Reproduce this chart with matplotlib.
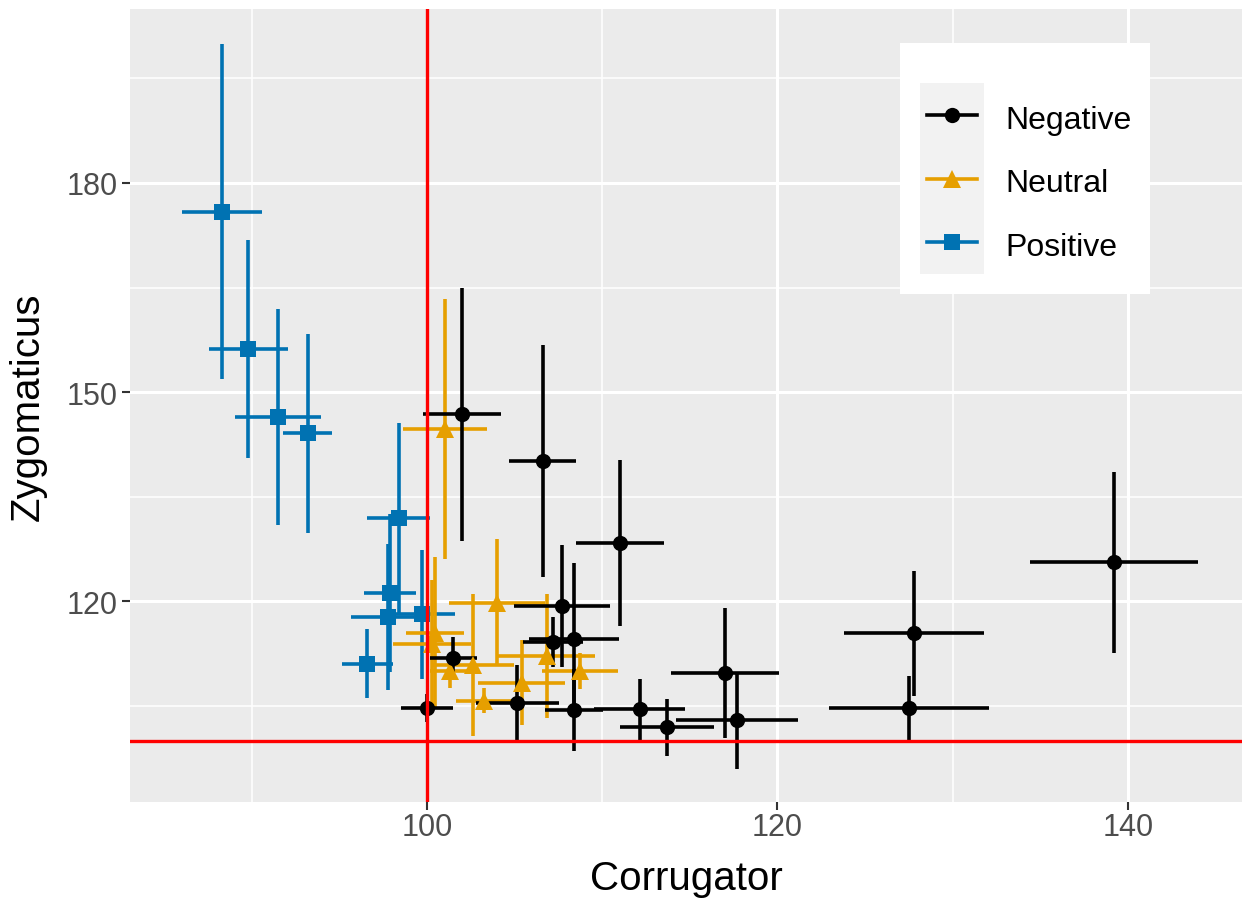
import matplotlib
matplotlib.use("Agg")
import matplotlib.pyplot as plt
from matplotlib.lines import Line2D
from matplotlib.patches import Rectangle

plt.rcParams["font.family"] = ["Liberation Sans", "DejaVu Sans"]

# values (x = Corrugator, y = Zygomaticus, +- half widths)
neg_x = [102.0, 106.6, 111.0, 139.2, 127.8, 127.5, 117.0, 117.7, 113.7,
         112.15, 108.4, 105.15, 107.2, 107.7, 108.4, 101.5, 100.0]
neg_y = [146.8, 140.1, 128.3, 125.6, 115.4, 104.7, 109.7, 102.9, 101.9,
         104.5, 104.4, 105.4, 114.1, 119.3, 114.65, 111.9, 104.65]
neg_xerr = [2.24, 1.92, 2.52, 4.8, 4.0, 4.55, 3.07, 3.48, 2.68,
            2.6, 1.67, 2.37, 1.7, 2.76, 2.55, 1.33, 1.47]
neg_yerr = [18.1, 16.6, 11.9, 13.0, 9.0, 4.6, 9.3, 7.0, 4.1,
            4.4, 5.9, 5.4, 3.6, 8.7, 10.9, 3.0, 2.0]

neu_x = [101.03, 104.0, 100.46, 100.3, 101.3, 102.64, 103.25, 105.4, 106.83, 108.73]
neu_y = [144.7, 119.8, 115.4, 113.8, 110.0, 110.85, 105.7, 108.3, 112.15, 110.0]
neu_xerr = [2.38, 2.75, 1.63, 2.24, 1.15, 2.33, 1.6, 2.47, 2.76, 2.19]
neu_yerr = [18.7, 9.1, 10.9, 9.3, 2.4, 10.2, 1.8, 6.1, 8.85, 2.6]

pos_x = [88.3, 89.8, 91.5, 93.2, 98.4, 97.9, 97.8, 99.7, 96.6]
pos_y = [175.9, 156.2, 146.4, 144.1, 131.9, 121.15, 117.75, 118.1, 111.06]
pos_xerr = [2.28, 2.26, 2.44, 1.39, 1.8, 1.5, 2.13, 1.9, 1.46]
pos_yerr = [24.0, 15.6, 15.5, 14.3, 13.7, 11.35, 10.45, 9.3, 5.0]

groups = ["Negative", "Neutral", "Positive"]
colors = {"Negative": "black", "Neutral": "#E69F00", "Positive": "#0072B2"}
markers = {"Negative": "o", "Neutral": "^", "Positive": "s"}
msizes = {"Negative": 11, "Neutral": 13, "Positive": 11.5}
data = {
    "Negative": (neg_x, neg_y, neg_xerr, neg_yerr),
    "Neutral": (neu_x, neu_y, neu_xerr, neu_yerr),
    "Positive": (pos_x, pos_y, pos_xerr, pos_yerr),
}

W, H = 1250, 904


def fx(px):
    return px / W


def fy(py):
    return 1 - py / H


fig = plt.figure(figsize=(W / 100, H / 100), dpi=100)
ax = fig.add_axes([fx(130), fy(803), (1242 - 130) / W, (803 - 10) / H])
ax.set_facecolor("#EBEBEB")
for s in ax.spines.values():
    s.set_visible(False)

ax.set_xlim(83.06, 146.5)
ax.set_ylim(91.2, 204.96)
ax.set_xticks([100, 120, 140])
ax.set_xticks([90, 110, 130], minor=True)
ax.set_yticks([120, 150, 180])
ax.set_yticks([105, 135, 165, 195], minor=True)
ax.grid(which="major", color="white", lw=2.2)
ax.grid(which="minor", color="white", lw=1.1)
ax.set_axisbelow(True)
ax.tick_params(which="major", length=5.8, width=1.5, color="#333333",
               labelsize=22, labelcolor="#4D4D4D")
ax.tick_params(axis="x", which="major", pad=1.5)
ax.tick_params(axis="y", which="major", pad=3)
ax.tick_params(which="minor", length=0)

# draw back to front: positive, neutral, negative
for g in ["Positive", "Neutral", "Negative"]:
    x, y, xe, ye = data[g]
    ax.errorbar(x, y, xerr=xe, yerr=ye, fmt=markers[g], color=colors[g],
                ms=msizes[g], elinewidth=2.6, capsize=0, mew=0)

ax.axvline(100, color="red", lw=2.4, zorder=5)
ax.axhline(100, color="red", lw=2.4, zorder=5)

ax.set_xlabel("Corrugator", fontsize=29, labelpad=12)
ax.set_ylabel("Zygomaticus", fontsize=29, labelpad=14)

# legend box, ggplot style
fig.add_artist(Rectangle((fx(900), fy(295)), (1150 - 900) / W, (295 - 44) / H,
                         transform=fig.transFigure, facecolor="white",
                         edgecolor="none", zorder=3))
fig.add_artist(Rectangle((fx(920), fy(275)), (984 - 920) / W, (275 - 84) / H,
                         transform=fig.transFigure, facecolor="#F2F2F2",
                         edgecolor="none", zorder=3.1))
for g, row in zip(groups, [116, 180, 243]):
    fig.add_artist(Line2D([fx(927), fx(977)], [fy(row), fy(row)],
                          transform=fig.transFigure, color=colors[g], lw=2.6,
                          zorder=3.2))
    fig.add_artist(Line2D([fx(952)], [fy(row)], transform=fig.transFigure,
                          marker=markers[g], ms=msizes[g], mew=0,
                          color=colors[g], zorder=3.3))
    fig.text(fx(1005), fy(row + 1), g, fontsize=23, va="center_baseline",
             ha="left", zorder=3.4)

fig.savefig("out.png", dpi=100)
